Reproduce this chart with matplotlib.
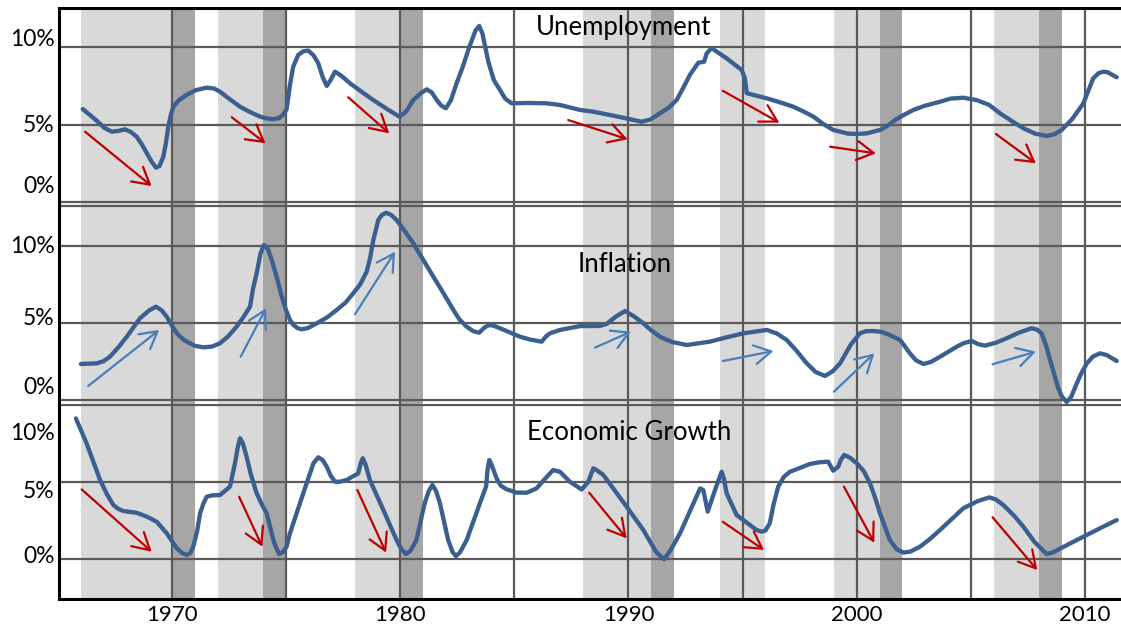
import matplotlib
matplotlib.use("Agg")
import matplotlib.pyplot as plt
import numpy as np

plt.rcParams['font.family'] = ['Lato', 'DejaVu Sans']

# ---------------- data (year, percent) ----------------
unemp_years = [1966.09, 1966.4, 1966.7, 1967.05, 1967.36, 1967.65, 1967.94, 1968.2, 1968.45, 1968.7,
               1968.89, 1969.1, 1969.3, 1969.45, 1969.62, 1969.73, 1969.84, 1969.95, 1970.06, 1970.3,
               1970.64, 1971.05, 1971.52, 1971.85, 1972.1, 1972.5, 1972.98, 1973.4, 1973.86, 1974.15,
               1974.44, 1974.7, 1974.88, 1975.02, 1975.17, 1975.31, 1975.53, 1975.75, 1975.97, 1976.2,
               1976.41, 1976.6, 1976.78, 1976.95, 1977.14, 1977.4, 1977.8, 1978.3, 1978.82, 1979.4,
               1979.96, 1980.25, 1980.57, 1980.9, 1981.16, 1981.38, 1981.6, 1981.8, 1982.0, 1982.22,
               1982.47, 1982.75, 1983.03, 1983.3, 1983.46, 1983.6, 1983.86, 1984.1, 1984.37, 1984.6,
               1984.88, 1985.6, 1986.4, 1987.0, 1987.88, 1988.46, 1989.5, 1990.58, 1990.95, 1991.38,
               1991.75, 1992.11, 1992.4, 1992.69, 1993.06, 1993.31, 1993.43, 1993.64, 1993.9, 1994.3,
               1994.96, 1995.1, 1995.18, 1996.06, 1996.6, 1997.22, 1997.7, 1998.1, 1998.55, 1998.97,
               1999.6, 2000.0, 2000.44, 2001.02, 2001.35, 2001.68, 2002.0, 2002.48, 2003.0, 2003.65,
               2004.1, 2004.67, 2005.25, 2005.8, 2006.28, 2006.8, 2007.3, 2007.8, 2008.32, 2008.65,
               2008.98, 2009.45, 2009.93, 2010.36, 2010.6, 2010.8, 2011.0, 2011.39]
unemp_values = [6.03, 5.65, 5.28, 4.8, 4.57, 4.62, 4.72, 4.55, 4.25, 3.7,
                3.2, 2.65, 2.25, 2.35, 2.95, 3.8, 4.89, 5.65, 6.18, 6.6,
                6.94, 7.25, 7.41, 7.35, 7.15, 6.7, 6.18, 5.85, 5.54, 5.42,
                5.37, 5.45, 5.7, 6.0, 7.6, 8.76, 9.52, 9.75, 9.8, 9.5,
                8.98, 8.1, 7.52, 7.9, 8.44, 8.2, 7.69, 7.15, 6.61, 6.05,
                5.54, 5.85, 6.61, 7.05, 7.3, 7.1, 6.61, 6.25, 6.08, 6.6,
                7.69, 8.8, 10.05, 11.1, 11.39, 10.9, 9.08, 7.9, 7.26, 6.7,
                6.4, 6.42, 6.4, 6.29, 5.97, 5.86, 5.55, 5.21, 5.35, 5.75,
                6.1, 6.61, 7.4, 8.23, 9.02, 9.08, 9.63, 9.95, 9.7, 9.3,
                8.55, 8.01, 7.05, 6.72, 6.48, 6.18, 5.85, 5.54, 5.05, 4.68,
                4.45, 4.42, 4.46, 4.68, 4.95, 5.32, 5.6, 5.97, 6.25, 6.5,
                6.7, 6.76, 6.61, 6.3, 5.75, 5.25, 4.79, 4.45, 4.29, 4.4,
                4.68, 5.4, 6.4, 8.01, 8.35, 8.44, 8.4, 8.08]

infl_years = [1966.01, 1966.7, 1967.0, 1967.28, 1967.65, 1968.02, 1968.6, 1969.0, 1969.3, 1969.55,
              1969.77, 1970.0, 1970.21, 1970.5, 1970.79, 1971.0, 1971.37, 1971.75, 1972.1, 1972.45,
              1972.83, 1973.1, 1973.42, 1973.55, 1973.71, 1973.88, 1974.03, 1974.2, 1974.37, 1974.6,
              1974.81, 1975.0, 1975.17, 1975.32, 1975.5, 1975.68, 1975.95, 1976.34, 1976.8, 1977.21,
              1977.6, 1977.94, 1978.25, 1978.53, 1978.68, 1978.82, 1979.04, 1979.2, 1979.38, 1979.6,
              1979.84, 1980.2, 1980.57, 1981.0, 1981.45, 1981.9, 1982.33, 1982.6, 1982.91, 1983.2,
              1983.46, 1983.7, 1983.9, 1984.1, 1984.37, 1985.25, 1985.7, 1986.2, 1986.38, 1986.56,
              1987.0, 1987.88, 1988.75, 1989.04, 1989.45, 1989.85, 1990.25, 1990.65, 1991.0, 1991.38,
              1991.9, 1992.55, 1993.57, 1994.3, 1995.03, 1996.06, 1996.5, 1996.93, 1997.35, 1997.81,
              1998.2, 1998.61, 1998.95, 1999.27, 1999.75, 2000.14, 2000.4, 2000.73, 2001.1, 2001.45,
              2001.9, 2002.33, 2002.6, 2002.92, 2003.25, 2003.65, 2004.38, 2004.7, 2005.04, 2005.33,
              2005.62, 2006.1, 2006.57, 2007.1, 2007.66, 2007.9, 2008.1, 2008.3, 2008.47, 2008.83,
              2008.99, 2009.2, 2009.4, 2009.64, 2009.85, 2010.08, 2010.35, 2010.66, 2010.95, 2011.39]
infl_values = [2.32, 2.36, 2.5, 2.79, 3.4, 4.09, 5.29, 5.8, 6.04, 5.8,
               5.39, 4.8, 4.31, 3.9, 3.66, 3.5, 3.4, 3.45, 3.66, 4.1,
               4.74, 5.3, 6.04, 7.2, 8.21, 9.5, 10.05, 9.8, 9.07, 7.9,
               6.69, 5.8, 5.18, 4.85, 4.65, 4.57, 4.65, 4.96, 5.35, 5.82,
               6.3, 6.91, 7.5, 8.31, 9.2, 10.37, 11.67, 12.0, 12.14, 12.0,
               11.67, 10.95, 10.16, 9.1, 7.99, 6.9, 5.82, 5.2, 4.74, 4.45,
               4.35, 4.7, 4.85, 4.8, 4.64, 4.09, 3.9, 3.77, 4.1, 4.31,
               4.53, 4.78, 4.79, 4.92, 5.4, 5.76, 5.4, 4.96, 4.5, 4.09,
               3.75, 3.55, 3.77, 4.05, 4.31, 4.53, 4.3, 3.88, 3.2, 2.36,
               1.8, 1.54, 1.85, 2.36, 3.6, 4.31, 4.45, 4.46, 4.4, 4.2,
               3.88, 3.01, 2.55, 2.32, 2.45, 2.79, 3.44, 3.68, 3.81, 3.6,
               3.51, 3.7, 3.99, 4.35, 4.64, 4.55, 4.31, 3.5, 2.58, 0.74,
               0.2, -0.15, 0.2, 1.06, 1.75, 2.36, 2.8, 3.01, 2.9, 2.51]

growth_years = [1965.79, 1966.26, 1966.85, 1967.15, 1967.43, 1967.65, 1967.87, 1968.45, 1968.9, 1969.33,
                1969.77, 1970.21, 1970.45, 1970.64, 1970.8, 1970.93, 1971.1, 1971.23, 1971.38, 1971.52,
                1971.75, 1972.1, 1972.54, 1972.76, 1972.88, 1972.98, 1973.1, 1973.27, 1973.45, 1973.71,
                1973.95, 1974.15, 1974.44, 1974.58, 1974.7, 1974.85, 1975.02, 1975.17, 1975.46, 1975.75,
                1976.2, 1976.41, 1976.6, 1976.78, 1976.95, 1977.14, 1977.35, 1977.65, 1978.16, 1978.27,
                1978.36, 1978.48, 1978.67, 1979.26, 1979.84, 1980.05, 1980.25, 1980.45, 1980.71, 1981.07,
                1981.25, 1981.41, 1981.57, 1981.74, 1982.1, 1982.3, 1982.44, 1982.62, 1982.91, 1983.49,
                1983.76, 1983.83, 1983.9, 1984.0, 1984.22, 1984.4, 1984.66, 1985.1, 1985.54, 1985.97,
                1986.35, 1986.7, 1987.0, 1987.43, 1987.95, 1988.24, 1988.46, 1988.6, 1988.9, 1989.92,
                1990.65, 1991.2, 1991.56, 1991.85, 1992.26, 1993.14, 1993.28, 1993.47, 1993.79, 1994.0,
                1994.08, 1994.18, 1994.3, 1994.74, 1995.32, 1995.6, 1995.83, 1996.0, 1996.19, 1996.35,
                1996.56, 1996.8, 1997.07, 1997.95, 1998.35, 1998.75, 1998.97, 1999.19, 1999.3, 1999.45,
                1999.7, 2000.0, 2000.3, 2000.58, 2000.8, 2001.02, 2001.45, 2001.75, 2002.04, 2002.35,
                2002.77, 2003.2, 2003.65, 2004.67, 2005.3, 2005.81, 2006.1, 2006.42, 2006.9, 2007.3,
                2007.8, 2008.32, 2008.6, 2009.49, 2010.66, 2011.39]
growth_values = [9.08, 7.47, 5.11, 4.2, 3.5, 3.25, 3.11, 3.0, 2.75, 2.42,
                 1.68, 0.71, 0.4, 0.28, 0.4, 0.81, 1.8, 2.96, 3.6, 4.03,
                 4.12, 4.14, 4.68, 6.19, 7.2, 7.8, 7.5, 6.61, 5.5, 4.25,
                 3.5, 2.96, 1.24, 0.7, 0.34, 0.45, 0.81, 1.68, 2.96, 4.25,
                 6.2, 6.57, 6.4, 5.97, 5.4, 5.0, 5.0, 5.11, 5.54, 6.2,
                 6.51, 6.1, 5.11, 3.18, 1.24, 0.65, 0.34, 0.55, 1.24, 3.61,
                 4.4, 4.79, 4.4, 3.61, 1.24, 0.45, 0.21, 0.45, 1.24, 3.61,
                 4.68, 5.8, 6.4, 6.1, 5.22, 4.75, 4.51, 4.3, 4.29, 4.57,
                 5.2, 5.75, 5.64, 5.0, 4.5, 5.0, 5.86, 5.75, 5.43, 3.39,
                 1.89, 0.5, 0.0, 0.6, 1.68, 4.57, 4.46, 3.07, 4.46, 5.3,
                 5.64, 5.2, 4.25, 2.85, 2.21, 1.9, 1.78, 1.85, 2.32, 3.5,
                 4.68, 5.3, 5.64, 6.14, 6.25, 6.29, 5.71, 5.97, 6.4, 6.72,
                 6.55, 6.19, 5.7, 4.9, 4.0, 2.96, 1.24, 0.65, 0.43, 0.5,
                 0.81, 1.3, 1.89, 3.29, 3.75, 3.99, 3.85, 3.5, 2.8, 2.1,
                 1.1, 0.34, 0.45, 1.13, 2.0, 2.53]

# shaded periods
light_periods = [(1966, 1970), (1972, 1974), (1978, 1980), (1988, 1991), (1994, 1996), (1999, 2001), (2006, 2008)]
dark_periods = [(1970, 1971), (1974, 1975), (1980, 1981), (1991, 1992), (2001, 2002), (2008, 2009)]

# arrows: (tail_x, tail_y, head_x, head_y)
unemp_arrows = [(1966.19, 4.57, 1969.11, 1.06), (1972.62, 5.5, 1974.1, 3.82), (1977.72, 6.79, 1979.52, 4.46),
                (1987.36, 5.32, 1989.96, 4.08), (1994.13, 7.21, 1996.61, 5.15), (1998.83, 3.6, 2000.84, 3.17),
                (2006.1, 4.42, 2007.85, 2.53)]
infl_arrows = [(1966.33, 0.89, 1969.44, 4.53), (1973.01, 2.79, 1974.12, 5.94), (1978.02, 5.55, 1979.77, 9.61),
               (1988.53, 3.38, 1990.11, 4.42), (1994.13, 2.51, 1996.35, 3.16), (1999.0, 0.52, 2000.77, 3.01),
               (2005.95, 2.3, 2007.85, 3.12)]
growth_arrows = [(1966.04, 4.51, 1969.11, 0.49), (1972.94, 4.03, 1973.96, 0.81), (1978.12, 4.47, 1979.38, 0.43),
                 (1988.28, 4.29, 1989.92, 1.35), (1994.13, 2.42, 1995.94, 0.6), (1999.44, 4.68, 2000.77, 1.07),
                 (2005.95, 2.71, 2007.91, -0.69)]

titles = ["Unemployment", "Inflation", "Economic Growth"]
ytick_labels = ["0%", "5%", "10%"]
xtick_years = [1970, 1980, 1990, 2000, 2010]
xtick_labels = ["1970", "1980", "1990", "2000", "2010"]

# ---------------- style ----------------
W, H = 1121, 625
fig = plt.figure(figsize=(W / 100, H / 100), dpi=100)

LINE = '#3B5F8F'
RED = '#C00000'
BLUE = '#4A7EBB'
GRID = '#5A5A5A'
LIGHT = '#D9D9D9'
DARK = '#A6A6A6'
XMIN = 1965.05
XMAX = XMIN + (W - 59) / 22.825

def fy(py):
    return 1 - py / H

panels = [
    dict(top=8, bot=204, ylim=(-0.097, 12.548), grid=[0, 5, 10], yt=[1.13, 5.1, 10.65],
         tpos=(1989.8, 10.81), series=(unemp_years, unemp_values), arrows=unemp_arrows, acol=RED),
    dict(top=204, bot=403.5, ylim=(-0.247, 12.708), grid=[0, 5, 10, 12.58], yt=[0.89, 5.39, 10.05],
         tpos=(1989.85, 8.29), series=(infl_years, infl_values), arrows=infl_arrows, acol=BLUE),
    dict(top=403.5, bot=599, ylim=(-2.558, 10.04), grid=[0, 5, 9.95], yt=[0.28, 4.53, 8.22],
         tpos=(1990.04, 7.69), series=(growth_years, growth_values), arrows=growth_arrows, acol=RED),
]

for i, p in enumerate(panels):
    ax = fig.add_axes([59 / W, fy(p['bot']), 1 - 59 / W, fy(p['top']) - fy(p['bot'])])
    ax.set_xlim(XMIN, XMAX)
    ax.set_ylim(*p['ylim'])
    for a, b in light_periods:
        ax.axvspan(a, b, color=LIGHT, lw=0, zorder=0)
    for a, b in dark_periods:
        ax.axvspan(a, b, color=DARK, lw=0, zorder=0)
    for yr in range(1970, 2015, 5):
        ax.axvline(yr, color=GRID, lw=1.6, zorder=1)
    for g in p['grid']:
        ax.axhline(g, color=GRID, lw=1.6, zorder=1)
    xs, ys = p['series']
    order = np.argsort(xs)
    ax.plot(np.asarray(xs)[order], np.asarray(ys)[order], color=LINE, lw=3.1,
            solid_capstyle='round', solid_joinstyle='round', zorder=3)
    for tx, ty, hx, hy in p['arrows']:
        ax.annotate('', xy=(hx, hy), xytext=(tx, ty),
                    arrowprops=dict(arrowstyle='->,head_length=0.6,head_width=0.34',
                                    color=p['acol'], lw=1.6, shrinkA=0, shrinkB=0,
                                    mutation_scale=20),
                    zorder=4)
    ax.text(p['tpos'][0], p['tpos'][1], titles[i], ha='center', va='baseline',
            fontsize=18.5, color='#000000', zorder=5)
    ax.set_yticks(p['yt'], ytick_labels)
    ax.tick_params(axis='y', length=0, pad=3, labelsize=16.5)
    for s in ['top', 'bottom', 'right']:
        ax.spines[s].set_visible(False)
    ax.spines['left'].set_color('black')
    ax.spines['left'].set_linewidth(2.2)
    ax.spines['left'].set_zorder(6)
    if i == 0:
        ax.spines['top'].set_visible(True)
        ax.spines['top'].set_color('black')
        ax.spines['top'].set_linewidth(2.2)
    if i == 2:
        ax.spines['bottom'].set_visible(True)
        ax.spines['bottom'].set_color('black')
        ax.spines['bottom'].set_linewidth(2.2)
        ax.set_xticks(xtick_years, xtick_labels)
        ax.tick_params(axis='x', length=0, pad=4, labelsize=16)
    else:
        ax.set_xticks([])
    ax.patch.set_alpha(0)

fig.savefig('out.png', dpi=100)
